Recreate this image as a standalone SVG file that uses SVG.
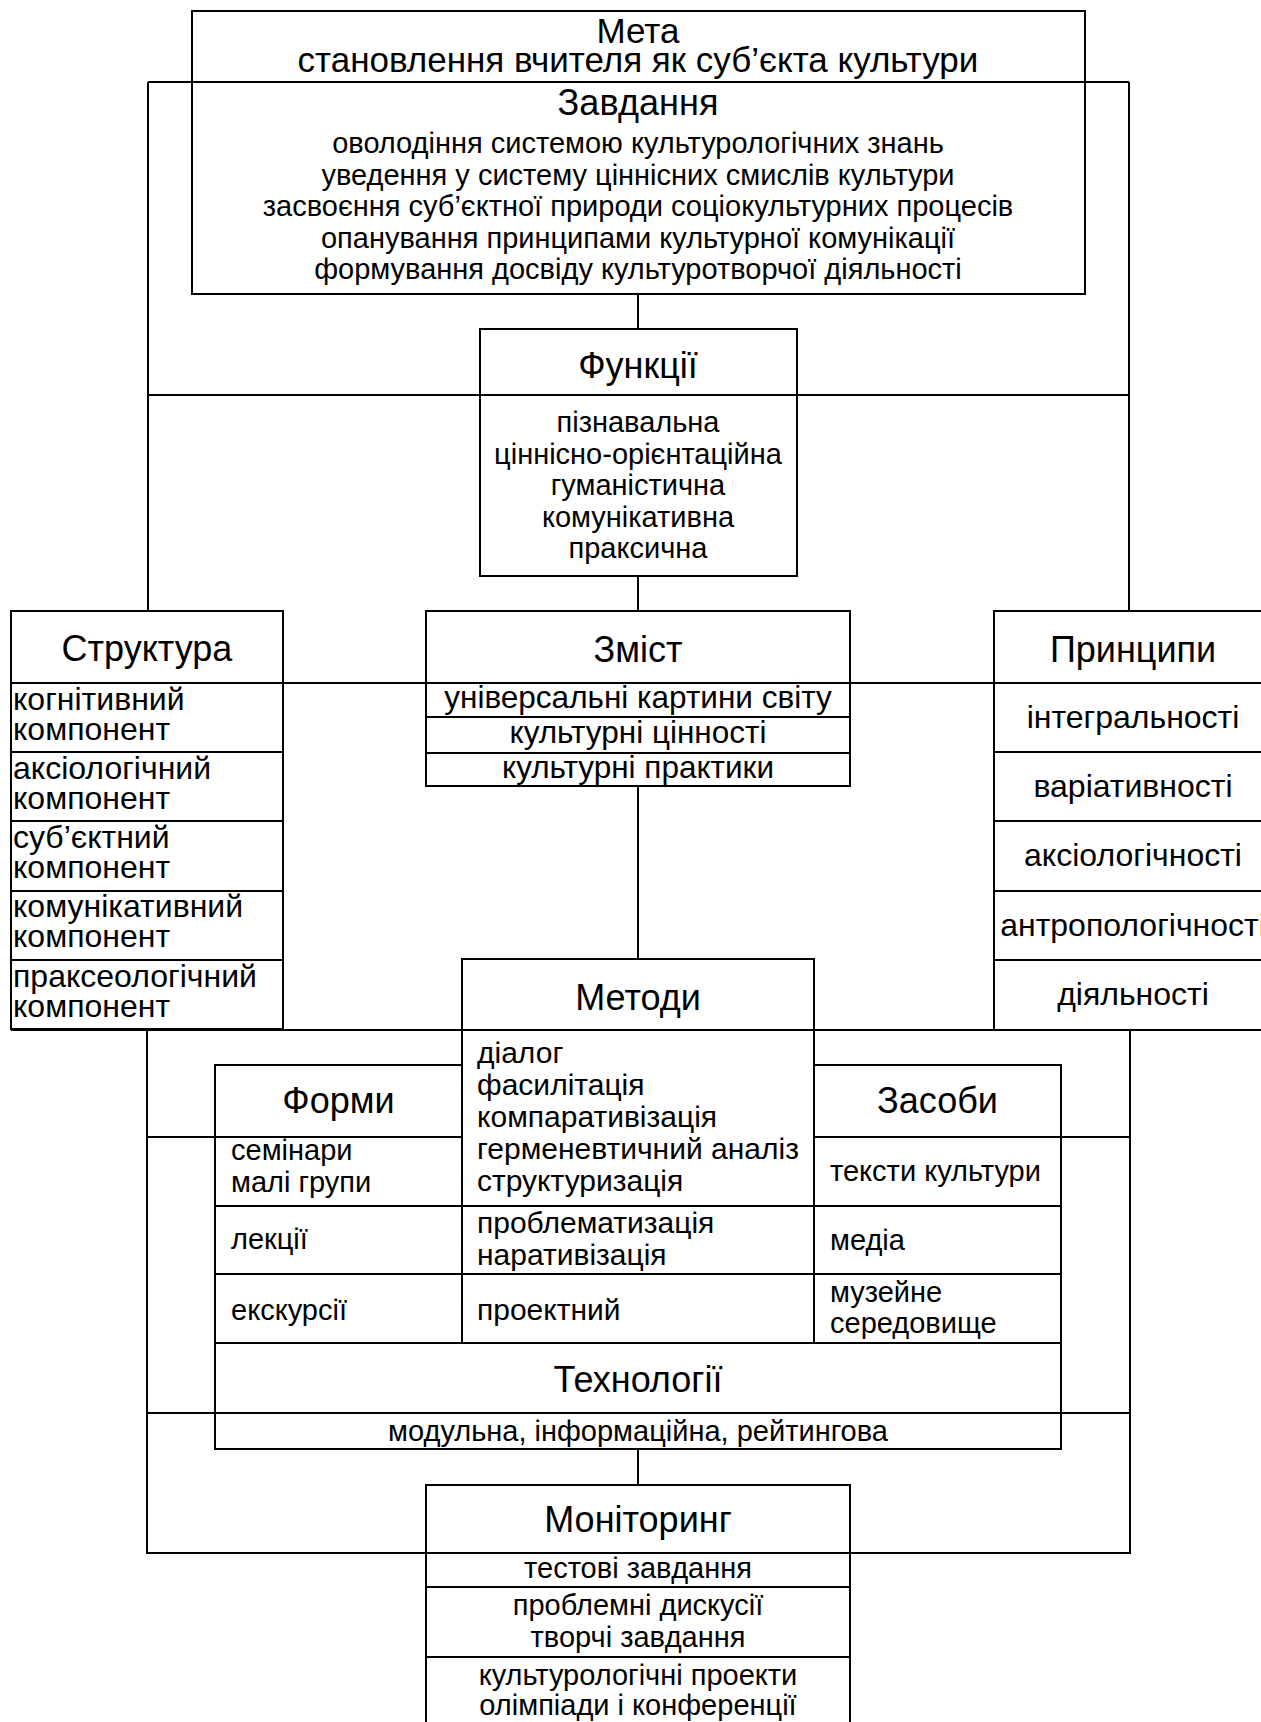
<svg xmlns="http://www.w3.org/2000/svg" width="1261" height="1722" viewBox="0 0 1261 1722">
<style>
.b{fill:#fff;stroke:#000;stroke-width:2}
.l{fill:none;stroke:#000;stroke-width:2}
text{font-family:"Liberation Sans",Arial,sans-serif;fill:#000}
.h{font-size:36px;text-anchor:middle}
.c{text-anchor:middle}
.s29{font-size:29px}
.s30{font-size:30px}
.s31{font-size:31.5px}
.s32{font-size:32px}
.s35{font-size:35px}
</style>
<rect width="1261" height="1722" fill="#fff"/>
<g id="connectors">
<path class="l" d="M638 294V329M638 576V611M638 786V959M638 1449V1485"/>
<path class="l" d="M148 82H1129M148 82V611M1129 82V611M148 395H1129"/>
<path class="l" d="M283 683H426M850 683H994"/>
<path class="l" d="M11 1030H1272M147 1030V1553H1130V1030M147 1137H215M1061 1137H1130M147 1413H215M1061 1413H1130"/>
</g>
<g id="meta">
<rect class="b" x="192" y="11" width="893" height="71"/>
<text class="c s35" x="638" y="43">Мета</text>
<text class="c s35" x="638" y="72">становлення вчителя як суб’єкта культури</text>
</g>
<g id="zavdannia">
<rect class="b" x="192" y="82" width="893" height="212"/>
<text class="h" x="638" y="115">Завдання</text>
<text class="c s29" x="638" y="153">оволодіння системою культурологічних знань</text>
<text class="c s29" x="638" y="185">уведення у систему ціннісних смислів культури</text>
<text class="c s29" x="638" y="216">засвоєння суб’єктної природи соціокультурних процесів</text>
<text class="c s29" x="638" y="248">опанування принципами культурної комунікації</text>
<text class="c s29" x="638" y="279">формування досвіду культуротворчої діяльності</text>
</g>
<g id="funktsii">
<rect class="b" x="480" y="329" width="317" height="247"/>
<path class="l" d="M480 395H797"/>
<text class="h" x="638" y="378">Функції</text>
<text class="c s29" x="638" y="432">пізнавальна</text>
<text class="c s29" x="638" y="464">ціннісно-орієнтаційна</text>
<text class="c s29" x="638" y="495">гуманістична</text>
<text class="c s29" x="638" y="527">комунікативна</text>
<text class="c s29" x="638" y="558">праксична</text>
</g>
<g id="struktura">
<rect class="b" x="11" y="611" width="272" height="418"/>
<path class="l" d="M11 683H283M11 752H283M11 821H283M11 891H283M11 960H283"/>
<text class="h" x="147" y="661">Структура</text>
<text class="s32" x="13" y="710">когнітивний</text>
<text class="s32" x="13" y="740">компонент</text>
<text class="s32" x="13" y="779">аксіологічний</text>
<text class="s32" x="13" y="809">компонент</text>
<text class="s32" x="13" y="848">суб’єктний</text>
<text class="s32" x="13" y="878">компонент</text>
<text class="s32" x="13" y="917">комунікативний</text>
<text class="s32" x="13" y="947">компонент</text>
<text class="s32" x="13" y="987">праксеологічний</text>
<text class="s32" x="13" y="1017">компонент</text>
</g>
<g id="zmist">
<rect class="b" x="426" y="611" width="424" height="175"/>
<path class="l" d="M426 683H850M426 717H850M426 753H850"/>
<text class="h" x="638" y="662">Зміст</text>
<text class="c s31" x="638" y="708">універсальні картини світу</text>
<text class="c s31" x="638" y="743">культурні цінності</text>
<text class="c s31" x="638" y="778">культурні практики</text>
</g>
<g id="pryntsypy">
<rect class="b" x="994" y="611" width="278" height="419"/>
<path class="l" d="M994 683H1272M994 752H1272M994 821H1272M994 891H1272M994 960H1272"/>
<text class="h" x="1133" y="662">Принципи</text>
<text class="c s32" x="1133" y="728">інтегральності</text>
<text class="c s32" x="1133" y="797">варіативності</text>
<text class="c s32" x="1133" y="866">аксіологічності</text>
<text class="c s32" x="1133" y="936">антропологічності</text>
<text class="c s32" x="1133" y="1005">діяльності</text>
</g>
<g id="metody">
<rect class="b" x="462" y="959" width="352" height="384"/>
<path class="l" d="M462 1030H814M462 1206H814M462 1274H814"/>
<text class="h" x="638" y="1010">Методи</text>
<text class="s30" x="477" y="1063">діалог</text>
<text class="s30" x="477" y="1095">фасилітація</text>
<text class="s30" x="477" y="1127">компаративізація</text>
<text class="s30" x="477" y="1159">герменевтичний аналіз</text>
<text class="s30" x="477" y="1191">структуризація</text>
<text class="s30" x="477" y="1233">проблематизація</text>
<text class="s30" x="477" y="1265">наративізація</text>
<text class="s30" x="477" y="1320">проектний</text>
</g>
<g id="formy">
<rect class="b" x="215" y="1065" width="247" height="278"/>
<path class="l" d="M215 1137H462M215 1206H462M215 1274H462"/>
<text class="h" x="338.5" y="1113">Форми</text>
<text class="s29" x="231" y="1160">семінари</text>
<text class="s29" x="231" y="1192">малі групи</text>
<text class="s29" x="231" y="1249">лекції</text>
<text class="s29" x="231" y="1320">екскурсії</text>
</g>
<g id="zasoby">
<rect class="b" x="814" y="1065" width="247" height="278"/>
<path class="l" d="M814 1137H1061M814 1206H1061M814 1274H1061"/>
<text class="h" x="937.5" y="1113">Засоби</text>
<text class="s29" x="830" y="1181">тексти культури</text>
<text class="s29" x="830" y="1250">медіа</text>
<text class="s29" x="830" y="1302">музейне</text>
<text class="s29" x="830" y="1333">середовище</text>
</g>
<g id="tekhnolohii">
<rect class="b" x="215" y="1343" width="846" height="106"/>
<path class="l" d="M215 1413H1061"/>
<text class="h" x="638" y="1392">Технології</text>
<text class="c s29" x="638" y="1441">модульна, інформаційна, рейтингова</text>
</g>
<g id="monitorynh">
<rect class="b" x="426" y="1485" width="424" height="245"/>
<path class="l" d="M426 1553H850M426 1587H850M426 1657H850"/>
<text class="h" x="638" y="1532">Моніторинг</text>
<text class="c s29" x="638" y="1578">тестові завдання</text>
<text class="c s29" x="638" y="1615">проблемні дискусії</text>
<text class="c s29" x="638" y="1647">творчі завдання</text>
<text class="c s29" x="638" y="1685">культурологічні проекти</text>
<text class="c s29" x="638" y="1715">олімпіади і конференції</text>
</g>
</svg>
